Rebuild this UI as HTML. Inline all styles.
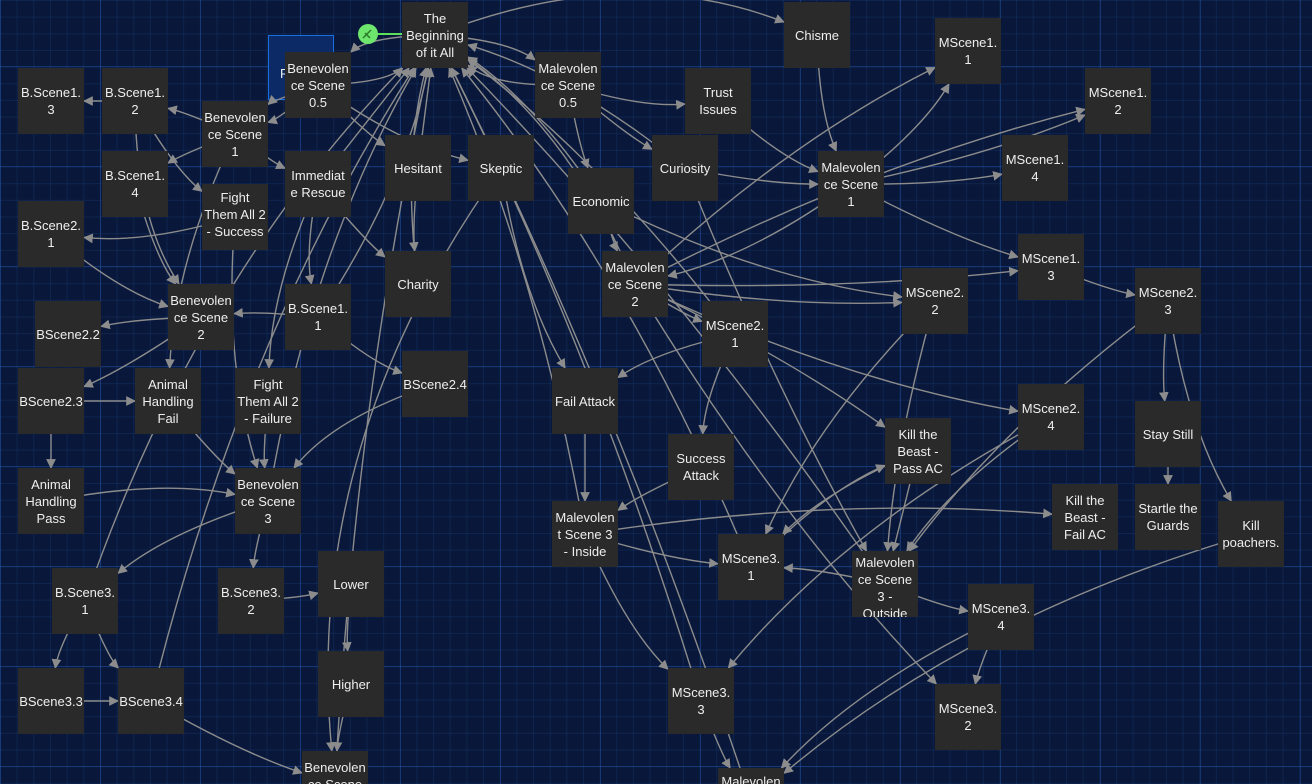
<!DOCTYPE html>
<html><head><meta charset="utf-8"><style>
html,body{margin:0;padding:0;width:1312px;height:784px;overflow:hidden;}
body{position:relative;background-color:#09183a;
background-image:
linear-gradient(to right,rgba(40,100,200,.35) 1px,transparent 1px),
linear-gradient(to bottom,rgba(40,100,200,.35) 1px,transparent 1px),
linear-gradient(to right,rgba(40,90,170,.18) 1px,transparent 1px),
linear-gradient(to bottom,rgba(40,90,170,.18) 1px,transparent 1px);
background-size:100px 100px,100px 100px,16.67px 16.67px,16.67px 16.67px;
background-position:0 -34px,0 -34px,0 0,0 0;
font-family:"Liberation Sans",sans-serif;}
.n{position:absolute;width:66px;height:66px;background:#2a2a2a;color:#eee;font-size:13px;line-height:17px;display:flex;align-items:center;justify-content:center;text-align:center;overflow:hidden;box-sizing:border-box;padding:0 2px;overflow-wrap:break-word;z-index:2}
svg{position:absolute;left:0;top:0;z-index:1}
.sel{position:absolute;left:268px;top:35px;width:66px;height:65px;border:1.5px solid #1a6fe0;background:#0c2a66;box-sizing:border-box;color:#eee;font-size:13px;padding:30px 0 0 11px;z-index:1}
</style></head><body>
<div class="sel">F</div>
<div id="nodes">
<div class="n" id="begin" style="left:402px;top:2px">The Beginning of it All</div>
<div class="n" id="chisme" style="left:784px;top:2px">Chisme</div>
<div class="n" id="m11" style="left:935px;top:18px">MScene1.<br>1</div>
<div class="n" id="b05" style="left:285px;top:52px">Benevolen ce Scene 0.5</div>
<div class="n" id="m05" style="left:535px;top:52px">Malevolen ce Scene 0.5</div>
<div class="n" id="trust" style="left:685px;top:68px">Trust Issues</div>
<div class="n" id="m12" style="left:1085px;top:68px">MScene1.<br>2</div>
<div class="n" id="b13" style="left:18px;top:68px">B.Scene1.<br>3</div>
<div class="n" id="b12" style="left:102px;top:68px">B.Scene1.<br>2</div>
<div class="n" id="b1" style="left:202px;top:101px">Benevolen ce Scene 1</div>
<div class="n" id="imm" style="left:285px;top:151px">Immediat e Rescue</div>
<div class="n" id="hes" style="left:385px;top:135px">Hesitant</div>
<div class="n" id="skep" style="left:468px;top:135px">Skeptic</div>
<div class="n" id="econ" style="left:568px;top:168px">Economic</div>
<div class="n" id="cur" style="left:652px;top:135px">Curiosity</div>
<div class="n" id="m1" style="left:818px;top:151px">Malevolen ce Scene 1</div>
<div class="n" id="m14" style="left:1002px;top:135px">MScene1.<br>4</div>
<div class="n" id="b14" style="left:102px;top:151px">B.Scene1.<br>4</div>
<div class="n" id="fs" style="left:202px;top:184px;align-items:flex-start;padding-top:5px">Fight Them All 2 - Success</div>
<div class="n" id="b21" style="left:18px;top:201px">B.Scene2.<br>1</div>
<div class="n" id="char" style="left:385px;top:251px">Charity</div>
<div class="n" id="m2" style="left:602px;top:251px">Malevolen ce Scene 2</div>
<div class="n" id="m13" style="left:1018px;top:234px">MScene1.<br>3</div>
<div class="n" id="ms22" style="left:902px;top:268px">MScene2.<br>2</div>
<div class="n" id="ms23" style="left:1135px;top:268px">MScene2.<br>3</div>
<div class="n" id="bs22" style="left:35px;top:301px">BScene2.2</div>
<div class="n" id="b2" style="left:168px;top:284px">Benevolen ce Scene 2</div>
<div class="n" id="b11" style="left:285px;top:284px">B.Scene1.<br>1</div>
<div class="n" id="ms21" style="left:702px;top:301px">MScene2.<br>1</div>
<div class="n" id="bs23" style="left:18px;top:368px">BScene2.3</div>
<div class="n" id="ahf" style="left:135px;top:368px">Animal Handling Fail</div>
<div class="n" id="ff" style="left:235px;top:368px">Fight Them All 2 - Failure</div>
<div class="n" id="bs24" style="left:402px;top:351px">BScene2.4</div>
<div class="n" id="fa" style="left:552px;top:368px">Fail Attack</div>
<div class="n" id="ms24" style="left:1018px;top:384px">MScene2.<br>4</div>
<div class="n" id="kp" style="left:885px;top:418px">Kill the Beast - Pass AC</div>
<div class="n" id="stay" style="left:1135px;top:401px">Stay Still</div>
<div class="n" id="sa" style="left:668px;top:434px">Success Attack</div>
<div class="n" id="ahp" style="left:18px;top:468px">Animal Handling Pass</div>
<div class="n" id="b3" style="left:235px;top:468px">Benevolen ce Scene 3</div>
<div class="n" id="kf" style="left:1052px;top:484px">Kill the Beast - Fail AC</div>
<div class="n" id="star" style="left:1135px;top:484px">Startle the Guards</div>
<div class="n" id="kpo" style="left:1218px;top:501px">Kill poachers.</div>
<div class="n" id="m3i" style="left:552px;top:501px">Malevolen t Scene 3 - Inside</div>
<div class="n" id="ms31" style="left:718px;top:534px">MScene3.<br>1</div>
<div class="n" id="m3o" style="left:852px;top:551px;align-items:flex-start;padding-top:3px">Malevolen ce Scene 3 - Outside</div>
<div class="n" id="ms34" style="left:968px;top:584px">MScene3.<br>4</div>
<div class="n" id="b31" style="left:52px;top:568px">B.Scene3.<br>1</div>
<div class="n" id="b32" style="left:218px;top:568px">B.Scene3.<br>2</div>
<div class="n" id="low" style="left:318px;top:551px">Lower</div>
<div class="n" id="high" style="left:318px;top:651px">Higher</div>
<div class="n" id="bs33" style="left:18px;top:668px">BScene3.3</div>
<div class="n" id="bs34" style="left:118px;top:668px">BScene3.4</div>
<div class="n" id="ms33" style="left:668px;top:668px">MScene3.<br>3</div>
<div class="n" id="ms32" style="left:935px;top:684px">MScene3.<br>2</div>
<div class="n" id="bb" style="left:302px;top:751px;height:33px;align-items:flex-start;padding-top:8px">Benevolen ce Scene</div>
<div class="n" id="mb" style="left:718px;top:768px;height:16px;align-items:flex-start;padding-top:5px">Malevolen</div>
</div>
<svg id="s" width="1312" height="784">
<defs><marker id="a" viewBox="0 0 10 10" refX="9" refY="5" markerWidth="7" markerHeight="7" orient="auto"><path d="M0,0L10,5L0,10z" fill="#8c8c8c"/></marker></defs>
<line x1="378" y1="34" x2="402" y2="34" stroke="#5be05b" stroke-width="2"/>
<circle cx="368" cy="34" r="10" fill="#6ee66e"/>
<path d="M363,38l8,-8M365,33l5,5" stroke="#2a7a2a" stroke-width="1.5"/>
</svg>
<script>
var E=[["b05","begin",20],["begin","b05",20],["m05","begin",-20],["begin","m05",-15],["begin","chisme",-25],["hes","begin",0],["skep","begin",0],["imm","begin",0],["b11","begin",10],["char","begin",-10],
["b3","begin",-15],["bs34","begin",-20],["bb","begin",-10],["b31","begin",-25],["econ","begin",10],["cur","begin",10],["m2","begin",15],["ms21","begin",10],["m3i","begin",10],["ms31","begin",15],["mb","begin",10],["ms33","begin",10],["m3o","begin",10],
["b05","hes",5],["b05","skep",10],["b05","b1",-10],["m05","trust",10],["m05","econ",5],["m05","cur",5],["chisme","m1",10],["b1","b12",5],["b12","b13",0],["b1","b14",5],["b1","imm",5],["b14","b2",10],["b12","b2",15],["fs","b21",-10],["b21","b2",10],["b2","bs22",5],["b2","bs23",-5],["b11","b2",5],["b11","bs24",10],["imm","char",5],["imm","b11",10],["hes","char",5],["skep","bb",40],["skep","fa",10],
["ahf","b3",5],["ff","b3",5],["bs23","ahf",0],["bs23","ahp",0],["ahp","b3",-10],["b3","b31",10],["b3","b32",5],["b32","low",5],["low","high",5],["high","bb",5],["bs34","bb",5],["b31","bs33",10],["b31","bs34",10],["bs33","bs34",0],["fs","b3",10],["b1","ahf",10],["imm","ff",10],["bs24","b3",15],["b12","fs",10],["b05","b1",10],
["m1","m11",10],["m1","m12",5],["m1","m14",5],["m1","m13",5],["trust","m1",10],["cur","m1",5],["econ","m2",5],["m2","m11",-10],["m2","m12",-10],["m2","m13",5],["m2","ms22",5],["m2","ms21",5],["ms21","fa",10],["ms21","sa",10],["fa","m3i",0],["sa","m3i",5],["m3i","ms31",5],["m3i","ms33",10],["m3i","kf",-10],["m13","ms23",5],["ms23","stay",5],["ms23","kpo",10],["stay","star",0],["ms22","m3o",5],["ms24","m3o",10],["m3o","ms34",5],["m3o","ms31",5],["kp","ms31",10],["ms31","kp",-10],["ms34","ms32",5],["ms33","mb",5],["kpo","mb",20],["ms34","mb",10],["m2","ms24",10],["kp","m3o",0],["m1","m2",-10],["econ","ms22",10],["m2","kp",-5],["ms22","ms31",10],["ms23","m3o",10],["ms24","ms33",15],["cur","m3o",5],["m2","ms32",10]];
var s=document.getElementById('s'),ns='http://www.w3.org/2000/svg';
function c(id){var e=document.getElementById(id);return {x:e.offsetLeft+33,y:e.offsetTop+33};}
function clip(p,q){var dx=q.x-p.x,dy=q.y-p.y,t=Math.min(Math.abs(33/(dx||1e-9)),Math.abs(33/(dy||1e-9)));t=Math.min(t,1);return {x:q.x-dx*t,y:q.y-dy*t};}
E.forEach(function(e){var p=c(e[0]),q=c(e[1]);var mx=(p.x+q.x)/2,my=(p.y+q.y)/2,dx=q.x-p.x,dy=q.y-p.y,L=Math.hypot(dx,dy)||1;var k=e[2]*Math.min(L,300)/100;var cx=mx-dy/L*k,cy=my+dx/L*k;var end=clip({x:cx,y:cy},q);
var path=document.createElementNS(ns,'path');path.setAttribute('d','M'+p.x+','+p.y+' Q'+cx+','+cy+' '+end.x+','+end.y);path.setAttribute('stroke','#8c8c8c');path.setAttribute('stroke-width','1.4');path.setAttribute('fill','none');path.setAttribute('marker-end','url(#a)');s.insertBefore(path,s.querySelector('line'));});
</script>
</body></html>
